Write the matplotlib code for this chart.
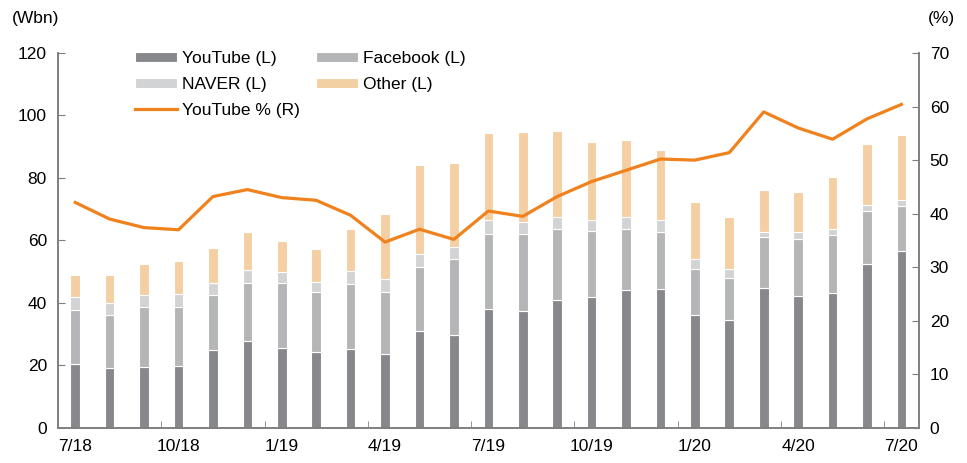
import matplotlib
matplotlib.use("Agg")
import matplotlib.pyplot as plt
import numpy as np

plt.rcParams['font.family'] = ['Liberation Sans', 'DejaVu Sans']

# Monthly data, 7/18 - 7/20
months = ['7/18', '8/18', '9/18', '10/18', '11/18', '12/18', '1/19', '2/19', '3/19',
          '4/19', '5/19', '6/19', '7/19', '8/19', '9/19', '10/19', '11/19', '12/19',
          '1/20', '2/20', '3/20', '4/20', '5/20', '6/20', '7/20']
youtube = [20.5, 19.1, 19.6, 19.9, 24.9, 27.9, 25.6, 24.2, 25.2, 23.7, 31.0, 29.9, 38.0,
           37.4, 40.9, 42.0, 44.1, 44.6, 36.1, 34.6, 44.9, 42.3, 43.3, 52.5, 56.7]
facebook = [17.3, 17.2, 19.0, 18.9, 17.6, 18.4, 20.7, 19.3, 20.8, 19.9, 20.6, 24.2, 24.0,
            24.6, 22.8, 21.1, 19.5, 18.1, 14.7, 13.3, 16.1, 18.2, 18.6, 16.8, 14.4]
naver = [4.0, 3.6, 4.1, 4.2, 3.8, 4.4, 3.6, 3.2, 4.1, 4.2, 4.2, 3.9, 4.4,
         3.9, 3.8, 3.5, 3.8, 3.8, 3.4, 2.9, 1.8, 2.2, 1.7, 2.2, 1.9]
other = [7.2, 9.2, 9.9, 10.5, 11.3, 12.0, 10.0, 10.7, 13.7, 20.8, 28.2, 26.9, 27.9,
         28.7, 27.5, 25.0, 24.6, 22.5, 18.0, 16.6, 13.4, 12.8, 16.6, 19.5, 20.6]
youtube_pct = [42.1, 39.0, 37.4, 37.0, 43.2, 44.5, 43.0, 42.5, 39.7, 34.7, 37.1, 35.2, 40.5,
               39.5, 43.2, 46.0, 48.1, 50.2, 50.0, 51.4, 59.0, 56.0, 53.9, 57.7, 60.4]

series = [('YouTube (L)', youtube, '#86888b'),
          ('Facebook (L)', facebook, '#b4b5b7'),
          ('NAVER (L)', naver, '#d2d3d5'),
          ('Other (L)', other, '#f5cfa4')]
line_color = '#f0821e'
axis_color = '#7f7f7f'

fig = plt.figure(figsize=(9.67, 4.63), dpi=100)
ax = fig.add_axes([0.060, 0.0756, 0.890, 0.81])
ax2 = ax.twinx()

x = np.arange(len(months))
bottom = np.zeros(len(months))
bars = {}
for name, vals, color in series:
    bars[name] = ax.bar(x, vals, width=0.28, bottom=bottom, color=color,
                        edgecolor='white', linewidth=0.8, label=name)
    bottom += np.array(vals)

line, = ax2.plot(x, youtube_pct, color=line_color, linewidth=2.3, label='YouTube % (R)')

ax.set_xlim(-0.5, len(months) - 0.5)
ax.set_ylim(0, 120)
ax2.set_ylim(0, 70)
ax.set_yticks(np.arange(0, 121, 20))
ax2.set_yticks(np.arange(0, 71, 10))

ax.set_xticks(x[::3])
ax.set_xticklabels(months[::3])
ax.set_xticks(np.arange(2.5, len(months) - 1, 3), minor=True)
ax.tick_params(axis='x', which='major', length=0, pad=8, labelsize=12.5)
ax.tick_params(axis='x', which='minor', direction='in', length=5, color=axis_color)
ax.tick_params(axis='y', direction='in', length=5, color=axis_color, labelsize=12.5, pad=8)
ax2.tick_params(axis='y', direction='in', length=5, color=axis_color, labelsize=12.5, pad=8)

for a in (ax, ax2):
    a.spines['top'].set_visible(False)
    for s in ('left', 'right', 'bottom'):
        a.spines[s].set_color(axis_color)
        a.spines[s].set_linewidth(1.2)

fig.text(0.012, 0.96, '(Wbn)', fontsize=12.5, va='center')
fig.text(0.988, 0.96, '(%)', fontsize=12.5, va='center', ha='right')

handles = [bars['YouTube (L)'], bars['NAVER (L)'], line, bars['Facebook (L)'], bars['Other (L)']]
labels = ['YouTube (L)', 'NAVER (L)', 'YouTube % (R)', 'Facebook (L)', 'Other (L)']
ax2.legend(handles, labels, ncol=2, loc='upper left', bbox_to_anchor=(0.09, 1.005),
           frameon=False, fontsize=12.5, handlelength=2.4, handleheight=0.5,
           handletextpad=0.3, columnspacing=0.9, labelspacing=0.62,
           borderaxespad=0, borderpad=0)

fig.savefig('out.png', dpi=100)
